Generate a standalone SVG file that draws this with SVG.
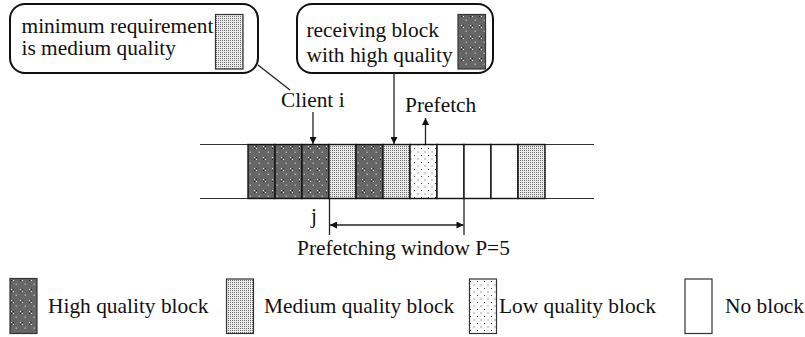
<svg xmlns="http://www.w3.org/2000/svg" width="805" height="337" viewBox="0 0 805 337" font-family="Liberation Serif, DejaVu Serif, serif">
  <style>
    text { font-family: 'Liberation Serif', 'DejaVu Serif', serif; font-size: 21.4px; fill: #111; }
    .bubble { fill: #fff; stroke: #111; stroke-width: 2; }
    .blk { stroke: #111; stroke-width: 1.4; }
    .sw { stroke: #333; stroke-width: 1.2; }
    .hi { fill: url(#pHigh); }
    .md { fill: url(#pMed); }
    .lo { fill: url(#pLow); }
    .no { fill: #fff; }
    .track { stroke: #333; stroke-width: 1.2; fill: none; }
    .conn { stroke: #222; stroke-width: 1.3; fill: none; }
  </style>
  <defs>
    <!-- high quality: dark grey with small checker blobs -->
    <pattern id="pHigh" width="9" height="11" patternUnits="userSpaceOnUse">
      <rect width="9" height="11" fill="#666"/>
      <rect x="2" y="3" width="1.5" height="1.5" fill="#eee"/>
      <rect x="3.5" y="4.5" width="1.5" height="1.5" fill="#eee"/>
      <rect x="3.5" y="3" width="1.5" height="1.5" fill="#222"/>
      <rect x="2" y="4.5" width="1.5" height="1.5" fill="#222"/>
      <rect x="6.5" y="8.5" width="1.5" height="1.5" fill="#aaa"/>
    </pattern>
    <!-- medium quality: fine dense stipple -->
    <pattern id="pMed" width="2" height="2" patternUnits="userSpaceOnUse">
      <rect width="2" height="2" fill="#ececec"/>
      <rect width="1" height="1" fill="#6a6a6a"/>
    </pattern>
    <!-- low quality: sparse staggered dots -->
    <pattern id="pLow" width="7" height="7" patternUnits="userSpaceOnUse">
      <rect width="7" height="7" fill="#fff"/>
      <rect x="1" y="1" width="1" height="1" fill="#444"/>
      <rect x="4.5" y="4.5" width="1" height="1" fill="#444"/>
    </pattern>
    <marker id="ah" viewBox="0 0 10 10" refX="10" refY="5" markerWidth="9" markerHeight="7" markerUnits="userSpaceOnUse" orient="auto-start-reverse">
      <path d="M0,0 L10,5 L0,10 z" fill="#111"/>
    </marker>
  </defs>

  <!-- callout: minimum requirement -->
  <g id="note-min">
    <rect class="bubble" x="10" y="4" width="248" height="69" rx="15"/>
    <rect class="sw md" x="215.5" y="14.5" width="27.5" height="54.5"/>
    <text x="21.5" y="32.5">minimum requirement</text>
    <text x="21.5" y="55">is medium quality</text>
  </g>

  <!-- callout: receiving block -->
  <g id="note-recv">
    <rect class="bubble" x="297" y="4" width="196" height="69" rx="15"/>
    <rect class="sw hi" x="458" y="14.5" width="27.5" height="54.5"/>
    <text x="306.5" y="37">receiving block</text>
    <text x="306.5" y="61.5">with high quality</text>
  </g>

  <!-- buffer track -->
  <g id="buffer">
    <line class="track" x1="200" y1="144.5" x2="594" y2="144.5"/>
    <line class="track" x1="200" y1="198.5" x2="594" y2="198.5"/>
    <rect class="blk hi" x="248" y="144.5" width="27" height="54"/>
    <rect class="blk hi" x="275" y="144.5" width="27" height="54"/>
    <rect class="blk hi" x="302" y="144.5" width="27" height="54"/>
    <rect class="blk md" x="329" y="144.5" width="27" height="54"/>
    <rect class="blk hi" x="356" y="144.5" width="27" height="54"/>
    <rect class="blk md" x="383" y="144.5" width="27" height="54"/>
    <rect class="blk lo" x="410" y="144.5" width="27" height="54"/>
    <rect class="blk no" x="437" y="144.5" width="27" height="54"/>
    <rect class="blk no" x="464" y="144.5" width="27" height="54"/>
    <rect class="blk no" x="491" y="144.5" width="27" height="54"/>
    <rect class="blk md" x="518" y="144.5" width="27" height="54"/>
  </g>

  <g id="label-client">
    <text x="281" y="107">Client i</text>
  </g>
  <g id="label-prefetch">
    <text x="405" y="111.5">Prefetch</text>
  </g>
  <g id="label-j">
    <text x="311" y="223">j</text>
  </g>
  <g id="label-window">
    <text x="297" y="255">Prefetching window P=5</text>
  </g>

  <!-- connectors -->
  <g id="connectors">
    <line class="conn" x1="258" y1="65" x2="290" y2="90"/>
    <line class="conn" x1="313" y1="112" x2="313" y2="144" marker-end="url(#ah)"/>
    <line class="conn" x1="394" y1="73" x2="394" y2="144" marker-end="url(#ah)"/>
    <line class="conn" x1="425.5" y1="144" x2="425.5" y2="118" marker-end="url(#ah)"/>
    <line class="conn" x1="329.5" y1="198.5" x2="329.5" y2="235"/>
    <line class="conn" x1="464" y1="198.5" x2="464" y2="235"/>
    <line class="conn" x1="330" y1="225" x2="463.5" y2="225" marker-start="url(#ah)" marker-end="url(#ah)"/>
  </g>

  <!-- legend -->
  <g id="legend-high">
    <rect class="sw hi" x="10" y="278.5" width="27" height="55"/>
    <text x="48" y="312.5">High quality block</text>
  </g>
  <g id="legend-medium">
    <rect class="sw md" x="226.5" y="279" width="27" height="54.5"/>
    <text x="264" y="312.5">Medium quality block</text>
  </g>
  <g id="legend-low">
    <rect class="sw lo" x="469.5" y="279" width="27" height="54.5"/>
    <text x="499" y="312.5">Low quality block</text>
  </g>
  <g id="legend-none">
    <rect class="sw no" x="685" y="279" width="27" height="54.5"/>
    <text x="725" y="312.5">No block</text>
  </g>
</svg>
